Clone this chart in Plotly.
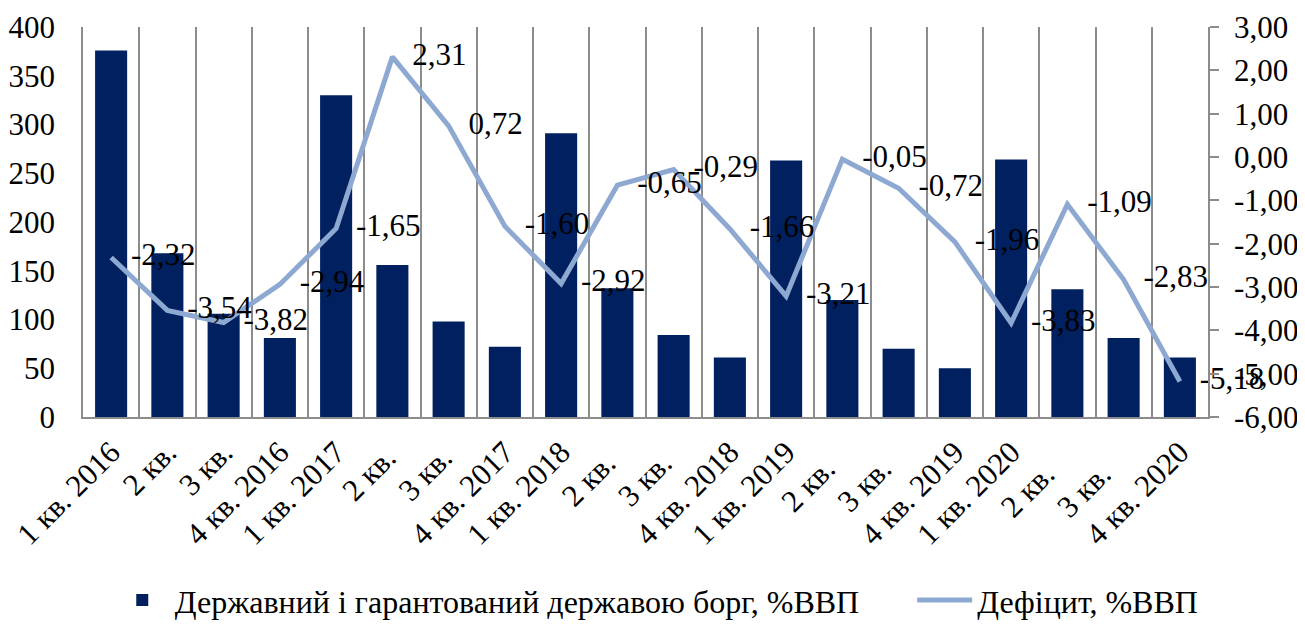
import plotly.graph_objects as go

categories = ["1 кв. 2016", "2 кв.", "3 кв.", "4 кв. 2016",
              "1 кв. 2017", "2 кв. ", "3 кв. ", "4 кв. 2017",
              "1 кв. 2018", "2 кв.  ", "3 кв.  ", "4 кв. 2018",
              "1 кв. 2019", "2 кв.   ", "3 кв.   ", "4 кв. 2019",
              "1 кв. 2020", "2 кв.    ", "3 кв.    ", "4 кв. 2020"]
debt = [376, 168, 106, 81, 330, 156, 98, 72, 291, 132, 84, 61,
        263, 120, 70, 50, 264, 131, 81, 61]
deficit = [-2.32, -3.54, -3.82, -2.94, -1.65, 2.31, 0.72, -1.60, -2.92, -0.65,
           -0.29, -1.66, -3.21, -0.05, -0.72, -1.96, -3.83, -1.09, -2.83, -5.18]
right_ticks = [3, 2, 1, 0, -1, -2, -3, -4, -5, -6]
right_tick_text = ["3,00", "2,00", "1,00", "0,00", "-1,00", "-2,00", "-3,00", "-4,00", "-5,00", "-6,00"]
left_ticks = [0, 50, 100, 150, 200, 250, 300, 350, 400]

FONT = "Liberation Serif"
FS = 31
GRID = "#8c8c8c"

deficit_text = [f"{v:.2f}".replace(".", ",") for v in deficit]

fig = go.Figure()
fig.add_trace(go.Bar(
    x=categories, y=debt,
    name="Державний і гарантований державою борг, %ВВП" + "\u00a0" * 6,
    marker=dict(color="#002060", line=dict(width=0)), yaxis="y",
))
fig.add_trace(go.Scatter(
    x=categories, y=deficit, name="Дефіцит, %ВВП", yaxis="y2",
    mode="lines+markers+text",
    line=dict(color="#8EA9D1", width=5),
    marker=dict(size=30, color="rgba(0,0,0,0)"),
    text=deficit_text, textposition="middle right",
    textfont=dict(family=FONT, size=FS, color="black"),
    cliponaxis=False,
))

fig.update_layout(
    width=1305, height=626,
    margin=dict(l=75, r=105, t=19, b=217, autoexpand=False),
    paper_bgcolor="white", plot_bgcolor="white",
    font=dict(family=FONT, size=FS, color="black"),
    bargap=0.43,
    showlegend=True,
    legend=dict(orientation="h", x=0.51, xanchor="center", y=-0.47, yanchor="middle",
                font=dict(family=FONT, size=32, color="black"), itemwidth=55,
                traceorder="normal"),
    xaxis=dict(type="category", range=[-0.5, 19.5], autorange=False,
               tickson="boundaries", showgrid=True, gridcolor=GRID,
               gridwidth=1.5, showline=True, linecolor=GRID, linewidth=1.5,
               tickangle=-45, ticks="", ticklabelstandoff=3, automargin=False,
               tickfont=dict(family=FONT, size=FS, color="black")),
    yaxis=dict(range=[0, 400], tickvals=left_ticks, showgrid=False, zeroline=False,
               showline=True, linecolor=GRID, linewidth=1.5, ticks="",
               ticklabelstandoff=20, automargin=False,
               tickfont=dict(family=FONT, size=FS, color="black")),
    yaxis2=dict(range=[-6, 3], tickvals=right_ticks, ticktext=right_tick_text,
                overlaying="y", side="right", showgrid=False, zeroline=False,
                showline=True, linecolor=GRID, linewidth=1.5,
                ticks="outside", ticklen=9, tickcolor=GRID, tickwidth=1.5,
                ticklabelstandoff=9, automargin=False,
                tickfont=dict(family=FONT, size=FS, color="black")),
)

fig.write_html("out.html")
